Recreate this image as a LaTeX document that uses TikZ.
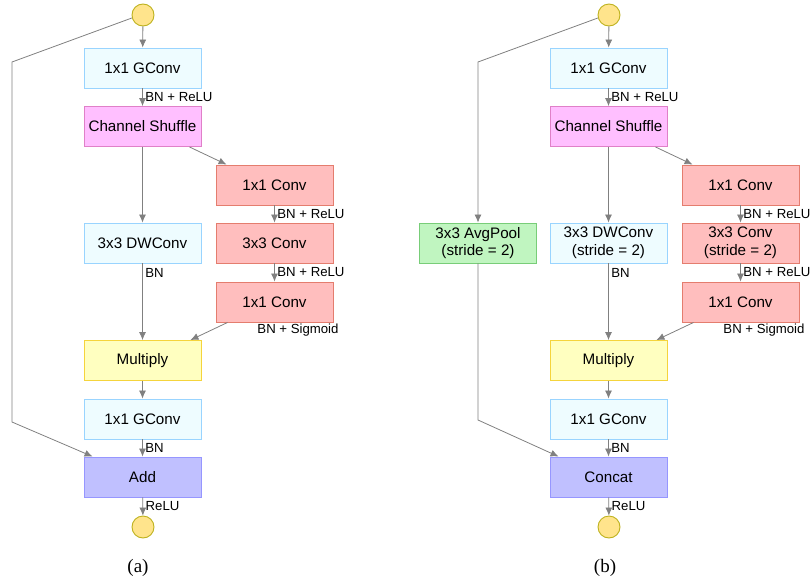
\documentclass[tikz,border=0pt]{standalone}
\usepackage{fontspec}
\setmainfont{Liberation Sans}
\newfontfamily\capfont{Liberation Serif}
\usetikzlibrary{calc,arrows.meta}

\definecolor{gconvfill}{RGB}{238,252,255}
\definecolor{gconvline}{RGB}{153,212,255}
\definecolor{shufflefill}{RGB}{255,191,255}
\definecolor{shuffleline}{RGB}{224,128,200}
\definecolor{convfill}{RGB}{255,190,190}
\definecolor{convline}{RGB}{228,125,110}
\definecolor{multfill}{RGB}{255,255,192}
\definecolor{multline}{RGB}{245,212,60}
\definecolor{addfill}{RGB}{192,192,255}
\definecolor{addline}{RGB}{150,150,255}
\definecolor{poolfill}{RGB}{192,245,192}
\definecolor{poolline}{RGB}{120,205,120}
\definecolor{iofill}{RGB}{255,228,140}
\definecolor{ioline}{RGB}{190,178,30}
\definecolor{linkgray}{RGB}{128,128,128}

\begin{document}
\begin{tikzpicture}[x=1pt,y=-1pt,
                    box/.style={draw,line width=0.9pt,minimum width=117,minimum height=40,
                                align=center,font=\fontsize{15.2}{17.5}\selectfont},
                    gconv/.style={box,fill=gconvfill,draw=gconvline},
                    shuffle/.style={box,fill=shufflefill,draw=shuffleline},
                    conv/.style={box,fill=convfill,draw=convline},
                    mult/.style={box,fill=multfill,draw=multline},
                    merge/.style={box,fill=addfill,draw=addline},
                    pool/.style={box,fill=poolfill,draw=poolline},
                    io/.style={circle,draw=ioline,fill=iofill,line width=0.9pt,minimum size=22,inner sep=0},
                    link/.style={-{Latex[length=8pt,width=7pt]},linkgray,line width=0.8pt},
                    lbl/.style={font=\fontsize{13.2}{15}\selectfont,text=black,inner sep=1.5pt,xshift=1pt},
                    caption/.style={font=\capfont\fontsize{19}{22}\selectfont}]
  \path[use as bounding box] (0,0) rectangle (812,584);

  % (a) unit with stride 1
  \begin{scope}[name prefix=a-]
    \node[io] (in) at (143,15) {};
    \node[gconv] (gc1) at (142.5,68) {1x1 GConv};
    \node[shuffle] (shuf) at (142.5,126.5) {Channel Shuffle};
    \node[conv] (c1) at (274.5,185) {1x1 Conv};
    \node[conv] (c2) at (274.5,243) {3x3 Conv};
    \node[conv] (c3) at (274.5,302) {1x1 Conv};
    \node[gconv] (dw) at (142.5,243) {3x3 DWConv};
    \node[mult] (mul) at (142.5,360.5) {Multiply};
    \node[gconv] (gc2) at (142.5,419) {1x1 GConv};
    \node[merge] (add) at (142.5,477) {Add};
    \node[io] (out) at (143,527) {};
    \node[caption] (cap) at (138,568) {(a)};

    \coordinate (skiptop) at (12,62);
    \coordinate (skipbot) at (12,422);

    \draw[link] (in) -- (gc1);
    \draw[link] (gc1) -- (shuf) node[lbl,midway,right] {BN + ReLU};
    \draw[link] (shuf) -- (dw);
    \draw[link] ($(shuf.south east)+(-12,0)$) -- ($(c1.north west)+(11,0)$);
    \draw[link] (c1) -- (c2) node[lbl,midway,right] {BN + ReLU};
    \draw[link] (c2) -- (c3) node[lbl,midway,right] {BN + ReLU};
    \draw[link] ($(c3.south west)+(12,0)$) -- ($(mul.north east)+(-11,0)$);
    \node[lbl] (sig) at (297,330) {BN + Sigmoid};
    \draw[link] (dw) -- (mul) node[lbl,pos=0.13,right] {BN};
    \draw[link] (mul) -- (gc2);
    \draw[link] (gc2) -- (add) node[lbl,midway,right] {BN};
    \draw[link] (add) -- (out) node[lbl,midway,right] {ReLU};
    \draw[link] (in.195) -- (skiptop) -- (skipbot) -- ($(add.north west)+(9,0)$);
  \end{scope}

  % (b) unit with stride 2
  \begin{scope}[name prefix=b-,xshift=466]
    \node[io] (in) at (143,15) {};
    \node[gconv] (gc1) at (142.5,68) {1x1 GConv};
    \node[shuffle] (shuf) at (142.5,126.5) {Channel Shuffle};
    \node[conv] (c1) at (274.5,185) {1x1 Conv};
    \node[conv] (c2) at (274.5,243) {3x3 Conv\\(stride = 2)};
    \node[conv] (c3) at (274.5,302) {1x1 Conv};
    \node[gconv] (dw) at (142.5,243) {3x3 DWConv\\(stride = 2)};
    \node[pool] (pool) at (12,243) {3x3 AvgPool\\(stride = 2)};
    \node[mult] (mul) at (142.5,360.5) {Multiply};
    \node[gconv] (gc2) at (142.5,419) {1x1 GConv};
    \node[merge] (cat) at (142.5,477) {Concat};
    \node[io] (out) at (143,527) {};
    \node[caption] (cap) at (139,568) {(b)};

    \coordinate (skiptop) at (12,62);
    \coordinate (skipbot) at (12,420);

    \draw[link] (in) -- (gc1);
    \draw[link] (gc1) -- (shuf) node[lbl,midway,right] {BN + ReLU};
    \draw[link] (shuf) -- (dw);
    \draw[link] ($(shuf.south east)+(-12,0)$) -- ($(c1.north west)+(11,0)$);
    \draw[link] (c1) -- (c2) node[lbl,midway,right] {BN + ReLU};
    \draw[link] (c2) -- (c3) node[lbl,midway,right] {BN + ReLU};
    \draw[link] ($(c3.south west)+(12,0)$) -- ($(mul.north east)+(-11,0)$);
    \node[lbl] (sig) at (297,330) {BN + Sigmoid};
    \draw[link] (dw) -- (mul) node[lbl,pos=0.13,right] {BN};
    \draw[link] (mul) -- (gc2);
    \draw[link] (gc2) -- (cat) node[lbl,midway,right] {BN};
    \draw[link] (cat) -- (out) node[lbl,midway,right] {ReLU};
    \draw[link] (in.195) -- (skiptop) -- (pool);
    \draw[link] (pool) -- (skipbot) -- ($(cat.north west)+(9,0)$);
  \end{scope}
\end{tikzpicture}
\end{document}
